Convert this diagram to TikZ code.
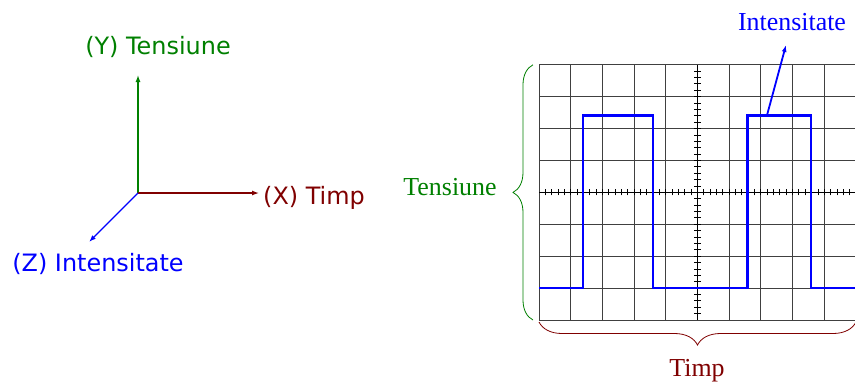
\documentclass[tikz,border=0pt]{standalone}
\usepackage{fontspec}
\newfontfamily\axafont{DejaVu Sans}
\newfontfamily\ecranfont{Liberation Serif}
\usepackage{tikz}
\usetikzlibrary{arrows.meta,calc,decorations.pathreplacing}
\definecolor{axagreen}{HTML}{008000}
\definecolor{axared}{HTML}{800000}
\definecolor{axablue}{HTML}{0000FF}

\begin{document}
\begin{tikzpicture}[x=1bp,y=-1bp,>={Latex[length=7bp,width=5bp]},
  axa/.style={line width=1.3bp,->},
  axalabel/.style={font=\axafont\fontsize{24}{28}\selectfont,inner sep=0pt},
  ecranlabel/.style={font=\ecranfont\fontsize{26}{30}\selectfont,inner sep=0pt},
  acolada/.style={decorate,decoration={brace,amplitude=#1},line width=0.8bp}]
\path[use as bounding box] (0,0) rectangle (855,387);
\fill[white] (0,0) rectangle (855,387);

% sistemul de axe X, Y, Z
\coordinate (O) at (138,193);
\coordinate (Yv) at (138,75);
\coordinate (Xv) at (259,193);
\coordinate (Zv) at (89,242);
\node[axalabel,text=axagreen] (ylab) at (158,47) {(Y) Tensiune};
\node[axalabel,text=axared,anchor=west] (xlab) at (263,198) {(X) Timp};
\node[axalabel,text=axablue] (zlab) at (98,264) {(Z) Intensitate};
\draw[axa,axagreen] (O)--(Yv);
\draw[axa,axared] (O)--(Xv);
\draw[axa,axablue] (O)--(Zv);

% ecranul osciloscopului: 10 x 8 diviziuni
\begin{scope}[shift={(539,320)},x=31.7bp,y=31.9bp]
  \foreach \i in {0,...,10}
    \draw[black!75,line width=0.9bp] (\i,0)--(\i,8);
  \foreach \j in {0,...,8}
    \draw[black!75,line width=0.9bp] (0,\j)--(10,\j);
  \draw[black,line width=0.9bp] (0,4)--(10,4) (5,0)--(5,8);
  % subdiviziuni pe axele centrale
  \foreach \i in {0.2,0.4,...,9.9}
    \draw[black,line width=0.9bp] (\i,4) ++(0,-3bp)--++(0,6bp);
  \foreach \j in {0.2,0.4,...,7.9}
    \draw[black,line width=0.9bp] (5,\j) ++(-3.5bp,0)--++(7bp,0);
  % semnalul dreptunghiular
  \draw[axablue,line width=2.2bp]
    (0,1)--(1.39,1)--(1.39,6.41)--(3.59,6.41)--(3.59,1)--(6.58,1)
    --(6.58,6.41)--(8.57,6.41)--(8.57,1)--(10,1);
  \coordinate (puls) at (7.19,6.41);
  \coordinate (sj) at (0,0);
  \coordinate (ss) at (0,8);
  \coordinate (dj) at (10,0);
\end{scope}

% acolade si etichete
\draw[acolada=20bp,axagreen] ($(sj)+(-6,0)$)--($(ss)+(-6,0)$);
\draw[acolada=23bp,axared] ($(dj)+(0,2)$)--($(sj)+(0,2)$);
\node[ecranlabel,text=axagreen] (tens) at (450,187) {Tensiune};
\node[ecranlabel,text=axared] (timp) at (697,371) {Timp};
\node[ecranlabel,text=axablue] (inten) at (792,22) {Intensitate};
\coordinate (vf) at (786,45);
\draw[axablue,line width=1.8bp,->] (puls)--(vf);
\end{tikzpicture}
\end{document}
